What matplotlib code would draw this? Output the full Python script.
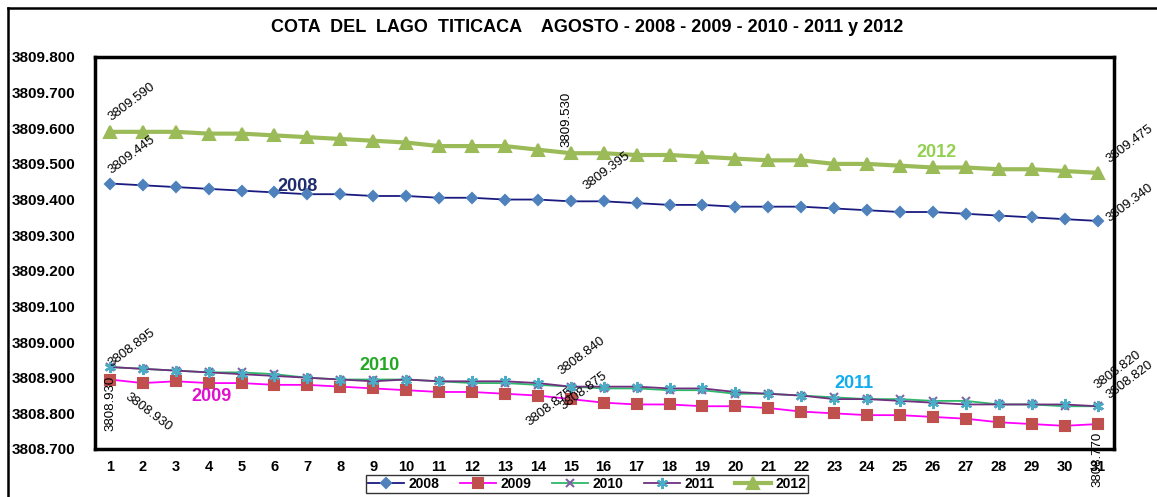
import matplotlib
matplotlib.use('Agg')
import matplotlib.pyplot as plt
from matplotlib.lines import Line2D
import numpy as np

plt.rcParams['font.family'] = ['Liberation Sans', 'DejaVu Sans']

# dias de agosto
days = list(range(1, 32))

# cota del lago (m.s.n.m.)
y2008 = [3809.445, 3809.440, 3809.435, 3809.430, 3809.425, 3809.420, 3809.415, 3809.415,
         3809.410, 3809.410, 3809.405, 3809.405, 3809.400, 3809.400, 3809.395, 3809.395,
         3809.390, 3809.385, 3809.385, 3809.380, 3809.380, 3809.380, 3809.375, 3809.370,
         3809.365, 3809.365, 3809.360, 3809.355, 3809.350, 3809.345, 3809.340]
y2009 = [3808.895, 3808.885, 3808.890, 3808.885, 3808.885, 3808.880, 3808.880, 3808.875,
         3808.870, 3808.865, 3808.860, 3808.860, 3808.855, 3808.850, 3808.840, 3808.830,
         3808.825, 3808.825, 3808.820, 3808.820, 3808.815, 3808.805, 3808.800, 3808.795,
         3808.795, 3808.790, 3808.785, 3808.775, 3808.770, 3808.765, 3808.770]
y2010 = [3808.930, 3808.925, 3808.920, 3808.915, 3808.915, 3808.910, 3808.900, 3808.895,
         3808.895, 3808.895, 3808.890, 3808.885, 3808.885, 3808.880, 3808.875, 3808.870,
         3808.870, 3808.865, 3808.865, 3808.855, 3808.855, 3808.850, 3808.845, 3808.840,
         3808.840, 3808.835, 3808.835, 3808.825, 3808.825, 3808.820, 3808.820]
y2011 = [3808.930, 3808.925, 3808.920, 3808.915, 3808.910, 3808.905, 3808.900, 3808.895,
         3808.890, 3808.895, 3808.890, 3808.890, 3808.890, 3808.885, 3808.875, 3808.875,
         3808.875, 3808.870, 3808.870, 3808.860, 3808.855, 3808.850, 3808.840, 3808.840,
         3808.835, 3808.830, 3808.825, 3808.825, 3808.825, 3808.825, 3808.820]
y2012 = [3809.590, 3809.590, 3809.590, 3809.585, 3809.585, 3809.580, 3809.575, 3809.570,
         3809.565, 3809.560, 3809.550, 3809.550, 3809.550, 3809.540, 3809.530, 3809.530,
         3809.525, 3809.525, 3809.520, 3809.515, 3809.510, 3809.510, 3809.500, 3809.500,
         3809.495, 3809.490, 3809.490, 3809.485, 3809.485, 3809.480, 3809.475]

yticks = [3808.7, 3808.8, 3808.9, 3809.0, 3809.1, 3809.2, 3809.3,
          3809.4, 3809.5, 3809.6, 3809.7, 3809.8]

series = {
    '2008': y2008, '2009': y2009, '2010': y2010, '2011': y2011, '2012': y2012,
}

# line colour, marker, marker colour, line width, marker size
styles = {
    '2008': ('#1a1a80', 'D', '#4F81BD', 1.3, 5),
    '2009': ('#FF00FF', 's', '#C0504D', 1.3, 7),
    '2010': ('#2EB86A', 'x', '#8064A2', 1.3, 6),
    '2011': ('#70307F', (6, 2, 0), '#4BACC6', 1.3, 8),
    '2012': ('#9BBB59', '^', '#9BBB59', 3.0, 9),
}

# data labels: series, day, text offset (px), rotation
point_labels = [
    ('2012', 1, (22, 30), 37),
    ('2008', 1, (22, 29), 37),
    ('2012', 15, (-4, 34), 90),
    ('2008', 15, (36, 30), 37),
    ('2012', 31, (32, 29), 37),
    ('2008', 31, (32, 18), 37),
    ('2009', 1, (22, 32), 37),
    ('2010', 1, (1, -36), 90),
    ('2011', 1, (39, -45), -37),
    ('2009', 15, (11, 43), 37),
    ('2010', 15, (-21, -20), 37),
    ('2011', 15, (13, -4), 37),
    ('2010', 31, (20, 36), 37),
    ('2011', 31, (32, 26), 37),
    ('2009', 31, (0, -35), 90),
]

# series name tags inside the chart
name_tags = [
    ('2008', 6.7, 3809.437, '#1F2D6E'),
    ('2012', 26.1, 3809.531, '#92D050'),
    ('2010', 9.2, 3808.935, '#22A822'),
    ('2009', 4.1, 3808.846, '#E010D0'),
    ('2011', 23.6, 3808.885, '#10AEEF'),
]

fig = plt.figure(figsize=(11.57, 4.97), dpi=100)
ax = fig.add_axes([95 / 1157, 1 - 449 / 497, (1114 - 95) / 1157, (449 - 57) / 497])

for name, vals in series.items():
    lc, mk, mc, lw, ms = styles[name]
    ax.plot(days, vals, color=lc, lw=lw, marker=mk, markersize=ms,
            markerfacecolor=mc, markeredgecolor=mc, markeredgewidth=1.5, label=name)

for name, day, off, rot in point_labels:
    v = series[name][day - 1]
    ax.annotate(f'{v:.3f}', xy=(day, v), xytext=off, textcoords='offset pixels',
                ha='center', va='center', rotation=rot, fontsize=9.5,
                annotation_clip=False)

for txt, x, y, c in name_tags:
    ax.text(x, y, txt, color=c, fontsize=13, fontweight='bold', ha='center', va='center')

ax.set_xlim(0.55, 31.5)
ax.set_ylim(3808.7, 3809.8)
ax.set_xticks(days)
ax.set_yticks(yticks)
ax.set_yticklabels([f'{t:.3f}' for t in yticks])
ax.tick_params(length=0, labelsize=10.5)
ax.tick_params(axis='y', labelsize=11, pad=14)
ax.tick_params(axis='x', pad=8)
for lab in ax.get_xticklabels() + ax.get_yticklabels():
    lab.set_fontweight('bold')
for sp in ax.spines.values():
    sp.set_linewidth(2.5)

fig.text(587 / 1157, 1 - 27 / 497,
         'COTA  DEL  LAGO  TITICACA    AGOSTO - 2008 - 2009 - 2010 - 2011 y 2012',
         ha='center', va='center', fontsize=13, fontweight='bold')

# outer chart frame
fig.add_artist(Line2D([8 / 1157, 8 / 1157], [0, 1 - 8 / 497], color='black', lw=1.8))
fig.add_artist(Line2D([8 / 1157, 1], [1 - 8 / 497, 1 - 8 / 497], color='black', lw=1.8))

leg = fig.legend(loc='upper center', bbox_to_anchor=(587 / 1157, 1 - 475 / 497), ncol=5,
                 frameon=True, fancybox=False, edgecolor='black', fontsize=10,
                 handlelength=2.6, columnspacing=1.5, borderpad=0.15, handletextpad=0.3,
                 borderaxespad=0)
leg.get_frame().set_linewidth(1.0)
for t in leg.get_texts():
    t.set_fontweight('bold')

plt.savefig('out.png', dpi=100)
plt.close()
